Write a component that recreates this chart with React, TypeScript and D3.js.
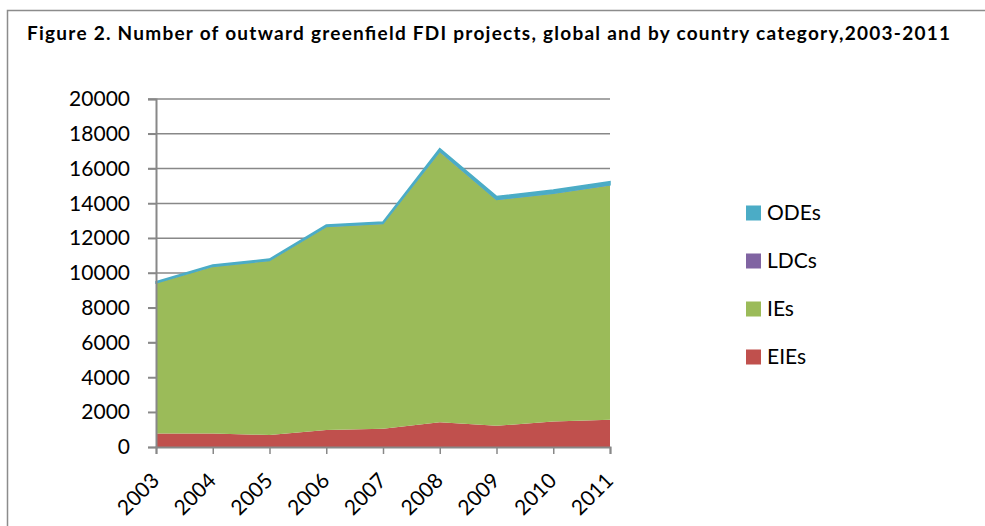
import { useEffect, useRef } from "react";
import * as d3 from "d3";

const years = ["2003", "2004", "2005", "2006", "2007", "2008", "2009", "2010", "2011"];
const eies = [770, 770, 690, 980, 1050, 1420, 1220, 1460, 1570];
const ies = [8640, 9590, 10010, 11660, 11760, 15540, 12970, 13090, 13460];
const ldcs = [20, 20, 20, 30, 30, 40, 40, 40, 40];
const odes = [70, 80, 80, 90, 90, 150, 170, 180, 180];
const yTicks = [0, 2000, 4000, 6000, 8000, 10000, 12000, 14000, 16000, 18000, 20000];

const seriesNames = ["EIEs", "IEs", "LDCs", "ODEs"];
const legendOrder = ["ODEs", "LDCs", "IEs", "EIEs"];
const colors: Record<string, string> = {
  ODEs: "#4BACC6",
  LDCs: "#8064A2",
  IEs: "#9BBB59",
  EIEs: "#C0504D",
};

const W = 985,
  H = 526;
const plot = { left: 156, right: 610, top: 99, bottom: 447 };
const font = "Lato, 'Open Sans', sans-serif";

function App() {
  const svgRef = useRef(null);

  const buildSVG = () => {
    const svg = d3.select(svgRef.current);
    svg.selectAll("*").remove();

    const rows = years.map((y, i) => ({
      year: y,
      EIEs: eies[i],
      IEs: ies[i],
      LDCs: ldcs[i],
      ODEs: odes[i],
    }));

    const x = d3.scalePoint().domain(years).range([plot.left, plot.right]);
    const y = d3.scaleLinear().domain([0, 20000]).range([plot.bottom, plot.top]);

    // outer frame
    svg
      .append("path")
      .attr("d", `M7.5,${H}V10.5H${W}`)
      .attr("fill", "none")
      .attr("stroke", "#8c8c8c")
      .attr("stroke-width", 1.5);

    svg
      .append("text")
      .attr("x", 27)
      .attr("y", 40)
      .attr("font-family", font)
      .attr("font-weight", "bold")
      .attr("font-size", 19)
      .attr("textLength", 923)
      .attr("lengthAdjust", "spacing")
      .attr("fill", "#000")
      .text("Figure 2. Number of outward greenfield FDI projects, global and by country category,2003-2011");

    // gridlines
    svg
      .append("g")
      .selectAll("line")
      .data(yTicks.filter((t) => t > 0))
      .enter()
      .append("line")
      .attr("x1", plot.left - 8)
      .attr("x2", plot.right)
      .attr("y1", (d) => y(d))
      .attr("y2", (d) => y(d))
      .attr("stroke", "#888")
      .attr("stroke-width", 1.5);

    const stack = d3.stack<any>().keys(seriesNames);
    const layers = stack(rows);

    const area = d3
      .area<any>()
      .x((d) => x(d.data.year) as number)
      .y0((d) => y(d[0]))
      .y1((d) => y(d[1]));

    svg
      .append("g")
      .selectAll("path")
      .data(layers)
      .enter()
      .append("path")
      .attr("d", (d) => area(d) as string)
      .attr("fill", (d) => colors[d.key])
      .attr("stroke", (d) => (d.key === "ODEs" ? colors[d.key] : "none"))
      .attr("stroke-width", 1.5);

    // y axis
    const yAxis = d3
      .axisLeft(y)
      .tickValues(yTicks)
      .tickSize(8)
      .tickPadding(18)
      .tickFormat((d) => String(d));
    const gy = svg
      .append("g")
      .attr("transform", `translate(${plot.left},0)`)
      .call(yAxis);
    gy.select(".domain").attr("stroke", "#888").attr("stroke-width", 2);
    gy.selectAll(".tick line").attr("stroke", "#888").attr("stroke-width", 1.5);
    gy.selectAll("text")
      .attr("font-family", font)
      .attr("font-size", 21)
      .attr("fill", "#000");

    // x axis
    const xAxis = d3.axisBottom(x).tickSize(7);
    const gx = svg
      .append("g")
      .attr("transform", `translate(0,${plot.bottom})`)
      .call(xAxis);
    gx.select(".domain").attr("stroke", "#888").attr("stroke-width", 2);
    gx.selectAll(".tick line").attr("stroke", "#888").attr("stroke-width", 1.5);
    gx.selectAll("text")
      .attr("font-family", font)
      .attr("font-size", 21)
      .attr("fill", "#000")
      .attr("text-anchor", "end")
      .attr("x", 0)
      .attr("y", 0)
      .attr("dy", 0)
      .attr("transform", "translate(4,35) rotate(-45)");

    // legend
    const lg = svg
      .append("g")
      .selectAll("g")
      .data(legendOrder)
      .enter()
      .append("g")
      .attr("transform", (d, i) => `translate(746,${213 + i * 48})`);
    lg.append("rect")
      .attr("x", 0)
      .attr("y", -7.5)
      .attr("width", 15)
      .attr("height", 15)
      .attr("fill", (d) => colors[d]);
    lg.append("text")
      .attr("x", 21)
      .attr("y", 0)
      .attr("dy", "0.35em")
      .attr("font-family", font)
      .attr("font-size", 21)
      .attr("fill", "#000")
      .text((d) => d);
  };

  useEffect(buildSVG, []);

  return (
    <div style={{ position: "absolute", left: 0, top: 0 }}>
      <svg ref={svgRef} width={W} height={H} style={{ display: "block", background: "#fff" }}></svg>
    </div>
  );
}

export default App;
